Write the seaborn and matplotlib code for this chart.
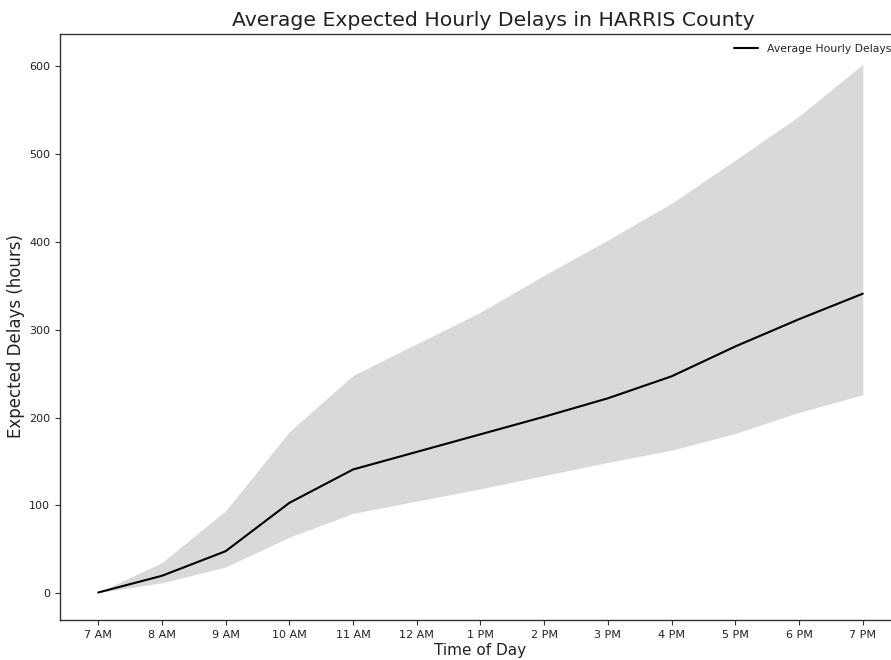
import matplotlib
matplotlib.use("Agg")
import matplotlib.pyplot as plt
import seaborn as sns
import pandas as pd

# Hour of day (24h clock) and the labels shown on the x axis
hours = [7, 8, 9, 10, 11, 12, 13, 14, 15, 16, 17, 18, 19]
hour_labels = ["7 AM", "8 AM", "9 AM", "10 AM", "11 AM", "12 AM",
               "1 PM", "2 PM", "3 PM", "4 PM", "5 PM", "6 PM", "7 PM"]

# Cumulative expected delay (hours): mean and spread band
avg_delay = [1, 20, 48, 103, 141, 161, 181, 201, 222, 247, 281, 312, 341]
upper_delay = [1, 35, 94, 184, 248, 284, 320, 362, 402, 444, 493, 543, 602]
lower_delay = [1, 12, 30, 64, 91, 105, 119, 134, 149, 163, 182, 206, 226]

df = pd.DataFrame({"hour": hours, "avg": avg_delay,
                   "upper": upper_delay, "lower": lower_delay})

sns.set_style("white")
plt.rcParams["font.family"] = ["DejaVu Sans"]

fig = plt.figure(figsize=(8.91, 6.60), dpi=100)
ax = fig.add_axes([60 / 891, 40 / 660, 841 / 891, 586 / 660])

ax.fill_between(df["hour"], df["lower"], df["upper"],
                color="#d9d9d9", linewidth=0, zorder=1)
sns.lineplot(data=df, x="hour", y="avg", color="black", linewidth=1.5,
             label="Average Hourly Delays", ax=ax, zorder=2)

ax.set_xlim(6.4, 19.6)
ax.set_ylim(-30.3, 636.5)
ax.set_xticks(hours)
ax.set_xticklabels(hour_labels)
ax.set_yticks([0, 100, 200, 300, 400, 500, 600])
ax.tick_params(axis="both", which="major", labelsize=8, length=3.5,
               width=0.8, direction="out", color="#333333",
               left=True, bottom=True, labelcolor="#222222")

for side in ["left", "bottom", "top", "right"]:
    ax.spines[side].set_color("#333333")
    ax.spines[side].set_linewidth(1.0)

ax.set_xlabel("Time of Day", fontsize=11, color="#222222", labelpad=2)
ax.set_ylabel("Expected Delays (hours)", fontsize=12, color="#222222")
ax.yaxis.set_label_coords(-0.0416, 0.484)
ax.set_title("Average Expected Hourly Delays in HARRIS County",
             fontsize=14.7, color="#222222", x=0.515, pad=6)

leg = ax.legend(loc="upper right", fontsize=7.8, frameon=False,
                handlelength=2.2, borderaxespad=0.5)

fig.savefig("out.png", dpi=100)
